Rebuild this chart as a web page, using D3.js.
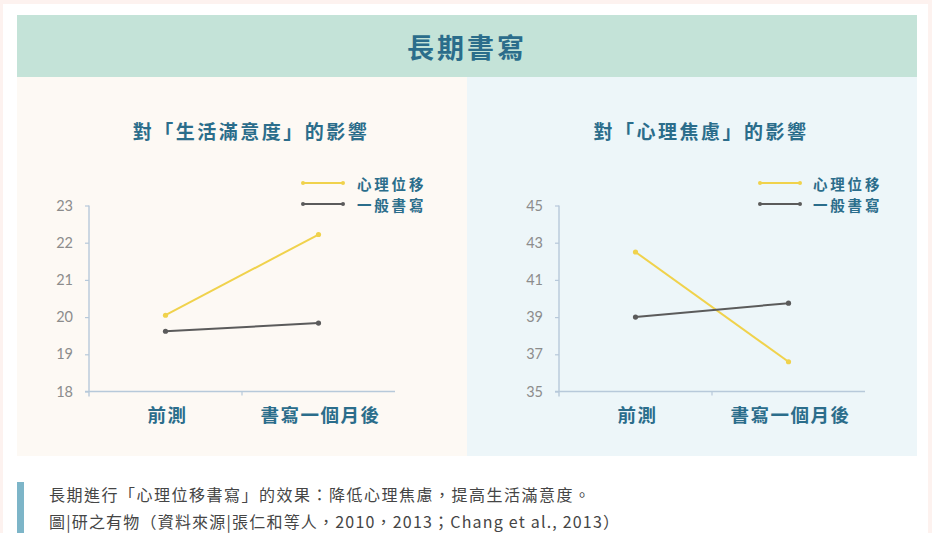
<!DOCTYPE html>
<html>
<head>
<meta charset="utf-8">
<script src="https://cdn.jsdelivr.net/npm/d3@7"></script>
<style>
  html, body { margin: 0; padding: 0; background: #fdf2ef; }
  svg { display: block; }
</style>
</head>
<body>
<svg id="chart" width="932" height="533"></svg>
<script>
// ---- data ----
const mainTitle = "長期書寫";
const categories = ["前測", "書寫一個月後"];
const seriesNames = ["心理位移", "一般書寫"];

const satisfactionTitle = "對「生活滿意度」的影響";
const satisfactionTicks = [18, 19, 20, 21, 22, 23];
const satisfactionDisplacement = [20.05, 22.22];
const satisfactionGeneral = [19.62, 19.84];

const anxietyTitle = "對「心理焦慮」的影響";
const anxietyTicks = [35, 37, 39, 41, 43, 45];
const anxietyDisplacement = [42.5, 36.6];
const anxietyGeneral = [39.0, 39.75];

const captionLines = [
  "長期進行「心理位移書寫」的效果：降低心理焦慮，提高生活滿意度。",
  "圖|研之有物（資料來源|張仁和等人，2010，2013；Chang et al., 2013）"
];

// ---- styles ----
const C = {
  page: "#ffffff",
  header: "#c4e3d8",
  leftBg: "#fdf9f4",
  rightBg: "#edf6f9",
  ink: "#2b6d8b",
  axis: "#b7c9da",
  tick: "#8c8c8c",
  yellow: "#f0d24c",
  gray: "#5b5b5b",
  bar: "#7db5c8",
  caption: "#454545"
};
const seriesColors = [C.yellow, C.gray];
const cjk = "'Noto Sans CJK TC', 'Noto Sans', sans-serif";

const svg = d3.select("#chart");

// page sheet and header band
svg.append("rect").attr("x", 3).attr("y", 4).attr("width", 925).attr("height", 529).attr("fill", C.page);
svg.append("rect").attr("x", 17).attr("y", 15).attr("width", 900).attr("height", 62).attr("fill", C.header);
svg.append("text")
  .attr("x", 467).attr("y", 46)
  .attr("text-anchor", "middle").attr("dominant-baseline", "central")
  .attr("font-family", cjk).attr("font-weight", 700)
  .attr("font-size", 27).attr("letter-spacing", 3)
  .attr("fill", C.ink).text(mainTitle);

const panels = [
  { x0: 17, bg: C.leftBg, title: satisfactionTitle, ticks: satisfactionTicks,
    series: [satisfactionDisplacement, satisfactionGeneral], axisX: 89, legendX: 303, legendLabelX: 357 },
  { x0: 467, bg: C.rightBg, title: anxietyTitle, ticks: anxietyTicks,
    series: [anxietyDisplacement, anxietyGeneral], axisX: 559, legendX: 760, legendLabelX: 813 }
];

const panelTop = 77, panelBottom = 456, panelW = 450;
const plotTop = 205.5, plotBottom = 391.5, plotW = 306;

panels.forEach(p => {
  const g = svg.append("g");
  g.append("rect").attr("x", p.x0).attr("y", panelTop)
    .attr("width", panelW).attr("height", panelBottom - panelTop).attr("fill", p.bg);

  // subtitle
  g.append("text")
    .attr("x", p.x0 + 234).attr("y", 130)
    .attr("text-anchor", "middle").attr("dominant-baseline", "central")
    .attr("font-family", cjk).attr("font-weight", 700)
    .attr("font-size", 19).attr("letter-spacing", 2.5)
    .attr("fill", C.ink).text(p.title);

  // scales
  const x = d3.scaleBand().domain(categories).range([p.axisX, p.axisX + plotW]);
  const y = d3.scaleLinear().domain(d3.extent(p.ticks)).range([plotBottom, plotTop]);

  // y axis
  const yAxis = g.append("g").attr("transform", `translate(${p.axisX},0)`)
    .call(d3.axisLeft(y).tickValues(p.ticks).tickFormat(d3.format("d"))
      .tickSize(4).tickPadding(12).tickSizeOuter(0));
  yAxis.select(".domain").remove();
  yAxis.selectAll(".tick line").attr("stroke", C.axis).attr("stroke-width", 1.2);
  yAxis.selectAll(".tick text")
    .attr("fill", C.tick).attr("font-family", "Lato, 'Open Sans', sans-serif")
    .attr("font-size", 14.5);
  g.append("line")
    .attr("x1", p.axisX).attr("x2", p.axisX)
    .attr("y1", y(p.ticks[p.ticks.length - 1])).attr("y2", plotBottom + 5)
    .attr("stroke", C.axis).attr("stroke-width", 1.4);

  // x axis: baseline, band-edge ticks, centred category labels
  g.append("line")
    .attr("x1", p.axisX - 4).attr("x2", p.axisX + plotW)
    .attr("y1", plotBottom).attr("y2", plotBottom)
    .attr("stroke", C.axis).attr("stroke-width", 1.4);
  g.selectAll(".xtick").data(categories.slice(1)).join("line")
    .attr("x1", d => x(d)).attr("x2", d => x(d))
    .attr("y1", plotBottom).attr("y2", plotBottom + 4)
    .attr("stroke", C.axis).attr("stroke-width", 1.2);
  g.selectAll(".xlabel").data(categories).join("text")
    .attr("x", d => x(d) + x.bandwidth() / 2 + 2)
    .attr("y", 414)
    .attr("text-anchor", "middle").attr("dominant-baseline", "central")
    .attr("font-family", cjk).attr("font-weight", 700)
    .attr("font-size", 18.5).attr("letter-spacing", 1.5)
    .attr("fill", C.ink).text(d => d);

  // series lines and end dots
  const line = d3.line()
    .x((d, i) => x(categories[i]) + x.bandwidth() / 2)
    .y(d => y(d));
  p.series.forEach((vals, si) => {
    g.append("path").datum(vals)
      .attr("d", line).attr("fill", "none")
      .attr("stroke", seriesColors[si]).attr("stroke-width", 2);
    g.selectAll(null).data(vals).join("circle")
      .attr("cx", (d, i) => x(categories[i]) + x.bandwidth() / 2)
      .attr("cy", d => y(d)).attr("r", 2.6)
      .attr("fill", seriesColors[si]);
  });

  // legend
  seriesNames.forEach((name, si) => {
    const ly = 183 + si * 21;
    g.append("line")
      .attr("x1", p.legendX).attr("x2", p.legendX + 40)
      .attr("y1", ly).attr("y2", ly)
      .attr("stroke", seriesColors[si]).attr("stroke-width", 2);
    [p.legendX, p.legendX + 40].forEach(cx =>
      g.append("circle").attr("cx", cx).attr("cy", ly).attr("r", 2).attr("fill", seriesColors[si]));
    g.append("text")
      .attr("x", p.legendLabelX).attr("y", ly)
      .attr("dominant-baseline", "central")
      .attr("font-family", cjk).attr("font-weight", 700)
      .attr("font-size", 14.5).attr("letter-spacing", 2.8)
      .attr("fill", C.ink).text(name);
  });
});

// caption with accent bar
const captionSpacing = [1.5, 1.2];
svg.append("rect").attr("x", 17).attr("y", 482).attr("width", 7).attr("height", 60).attr("fill", C.bar);
svg.selectAll(".caption").data(captionLines).join("text")
  .attr("x", 49).attr("y", (d, i) => 494 + i * 27)
  .attr("dominant-baseline", "central")
  .attr("font-family", cjk).attr("font-size", 16)
  .attr("letter-spacing", (d, i) => captionSpacing[i])
  .attr("fill", C.caption).text(d => d);
</script>
</body>
</html>
